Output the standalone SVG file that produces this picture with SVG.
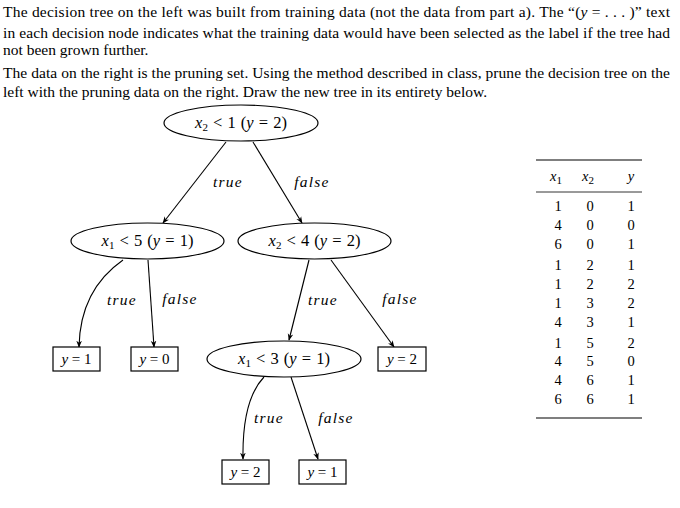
<svg xmlns="http://www.w3.org/2000/svg" width="680" height="508" viewBox="0 0 680 508">
<defs>
<marker id="ah" viewBox="0 0 10 10" refX="9" refY="5" markerWidth="7" markerHeight="7" orient="auto" markerUnits="userSpaceOnUse"><path d="M0,1 L10,5 L0,9 L3,5 z" fill="#000"/></marker>
</defs>
<style>
text{font-family:"Liberation Serif","DejaVu Serif",serif;fill:#000}
.p{font-size:15.5px}
.m{font-size:16.5px;text-anchor:middle;word-spacing:1px}
.b{font-size:15px;text-anchor:middle}
.i{font-style:italic}
.s{font-size:11px}
.lbl{font-size:15.5px;font-style:italic;text-anchor:middle;letter-spacing:1.2px}
.t{font-size:14.5px;text-anchor:middle}
ellipse,rect.n{fill:#fff;stroke:#000;stroke-width:1.2}
.c path{fill:none;stroke:#000;stroke-width:1.1;marker-end:url(#ah)}
</style>
<rect width="680" height="508" fill="#fff"/>
<text class="p" x="3" y="17" textLength="667" lengthAdjust="spacing">The decision tree on the left was built from training data (not the data from part a). The “(<tspan class="i">y</tspan> = . . . )” text</text>
<text class="p" x="3" y="38" textLength="667" lengthAdjust="spacing">in each decision node indicates what the training data would have been selected as the label if the tree had</text>
<text class="p" x="3" y="55">not been grown further.</text>
<text class="p" x="3" y="78" textLength="667" lengthAdjust="spacing">The data on the right is the pruning set. Using the method described in class, prune the decision tree on the</text>
<text class="p" x="3" y="97">left with the pruning data on the right. Draw the new tree in its entirety below.</text>
<g class="c" id="connectors">
<path d="M226,142 L163,223"/>
<path d="M253,142 L302,223"/>
<path d="M123,260 Q80,290 79,347"/>
<path d="M148,260 L154,347"/>
<path d="M309,260 L289,340"/>
<path d="M331,260 L394,347"/>
<path d="M264,377 Q242,400 243,459"/>
<path d="M291,377 L318,459"/>
</g>
<g id="labels">
<text class="lbl" x="228" y="187">true</text>
<text class="lbl" x="312" y="187">false</text>
<text class="lbl" x="122" y="305">true</text>
<text class="lbl" x="180" y="304">false</text>
<text class="lbl" x="323" y="305">true</text>
<text class="lbl" x="400" y="304">false</text>
<text class="lbl" x="269" y="423">true</text>
<text class="lbl" x="336" y="423">false</text>
</g>
<g id="root"><ellipse cx="241" cy="123" rx="77" ry="18"/><text class="m" x="241" y="128"><tspan class="i">x</tspan><tspan class="s" dy="3">2</tspan><tspan dy="-3"> &lt; 1 (</tspan><tspan class="i">y</tspan> = 2)</text></g>
<g id="n1"><ellipse cx="147.5" cy="241" rx="76.5" ry="18"/><text class="m" x="147.5" y="246"><tspan class="i">x</tspan><tspan class="s" dy="3">1</tspan><tspan dy="-3"> &lt; 5 (</tspan><tspan class="i">y</tspan> = 1)</text></g>
<g id="n2"><ellipse cx="314.5" cy="241" rx="76.5" ry="18"/><text class="m" x="314.5" y="246"><tspan class="i">x</tspan><tspan class="s" dy="3">2</tspan><tspan dy="-3"> &lt; 4 (</tspan><tspan class="i">y</tspan> = 2)</text></g>
<g id="n3"><ellipse cx="284" cy="359" rx="77" ry="18"/><text class="m" x="284" y="364"><tspan class="i">x</tspan><tspan class="s" dy="3">1</tspan><tspan dy="-3"> &lt; 3 (</tspan><tspan class="i">y</tspan> = 1)</text></g>
<g id="l1"><rect class="n" x="53" y="347" width="47" height="24"/><text class="b" x="76.5" y="364"><tspan class="i">y</tspan> = 1</text></g>
<g id="l0"><rect class="n" x="131" y="347" width="47" height="24"/><text class="b" x="154.5" y="364"><tspan class="i">y</tspan> = 0</text></g>
<g id="l2a"><rect class="n" x="378" y="347" width="48" height="24"/><text class="b" x="402" y="364"><tspan class="i">y</tspan> = 2</text></g>
<g id="l2b"><rect class="n" x="222" y="460" width="47" height="24"/><text class="b" x="245.5" y="477"><tspan class="i">y</tspan> = 2</text></g>
<g id="l1b"><rect class="n" x="299" y="460" width="47" height="24"/><text class="b" x="322.5" y="477"><tspan class="i">y</tspan> = 1</text></g>
<g id="table">
<line x1="536" y1="160" x2="642" y2="160" stroke="#000" stroke-width="1.2"/>
<line x1="536" y1="192" x2="642" y2="192" stroke="#000" stroke-width="0.8"/>
<line x1="536" y1="418" x2="642" y2="418" stroke="#000" stroke-width="1.2"/>
<text class="t" x="556" y="181"><tspan class="i">x</tspan><tspan class="s" dy="3">1</tspan></text>
<text class="t" x="588" y="181"><tspan class="i">x</tspan><tspan class="s" dy="3">2</tspan></text>
<text class="t i" x="631" y="181">y</text>
<text class="t" x="558" y="211">1</text><text class="t" x="590" y="211">0</text><text class="t" x="631" y="211">1</text>
<text class="t" x="558" y="230">4</text><text class="t" x="590" y="230">0</text><text class="t" x="631" y="230">0</text>
<text class="t" x="558" y="249">6</text><text class="t" x="590" y="249">0</text><text class="t" x="631" y="249">1</text>
<text class="t" x="558" y="270">1</text><text class="t" x="590" y="270">2</text><text class="t" x="631" y="270">1</text>
<text class="t" x="558" y="289">1</text><text class="t" x="590" y="289">2</text><text class="t" x="631" y="289">2</text>
<text class="t" x="558" y="308">1</text><text class="t" x="590" y="308">3</text><text class="t" x="631" y="308">2</text>
<text class="t" x="558" y="327">4</text><text class="t" x="590" y="327">3</text><text class="t" x="631" y="327">1</text>
<text class="t" x="558" y="348">1</text><text class="t" x="590" y="348">5</text><text class="t" x="631" y="348">2</text>
<text class="t" x="558" y="366">4</text><text class="t" x="590" y="366">5</text><text class="t" x="631" y="366">0</text>
<text class="t" x="558" y="385">4</text><text class="t" x="590" y="385">6</text><text class="t" x="631" y="385">1</text>
<text class="t" x="558" y="404">6</text><text class="t" x="590" y="404">6</text><text class="t" x="631" y="404">1</text>
</g>
</svg>
